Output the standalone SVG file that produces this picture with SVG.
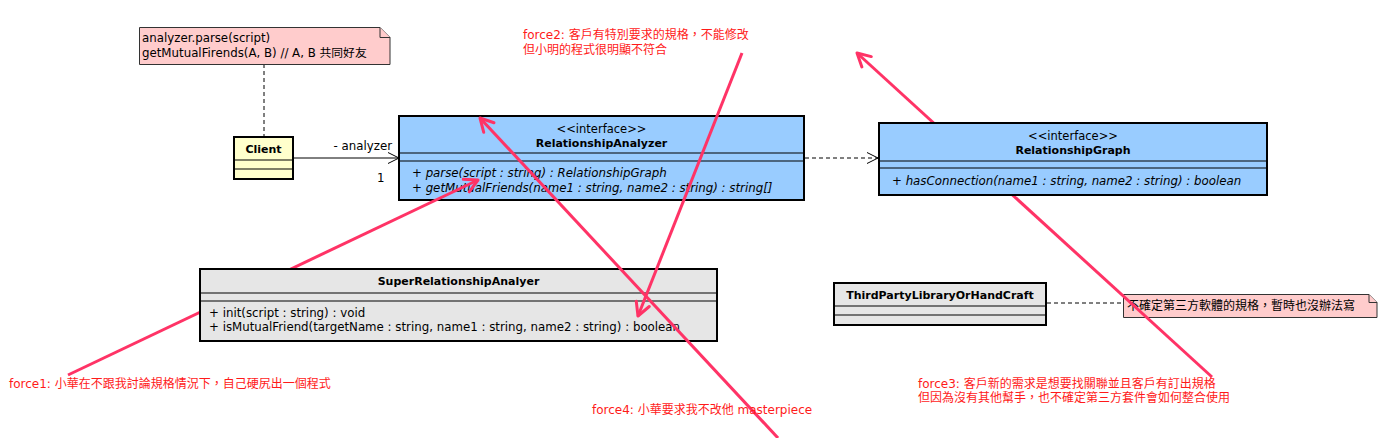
<svg xmlns="http://www.w3.org/2000/svg" width="1380" height="438" viewBox="0 0 1380 438">
<style>
.box{stroke:#000;stroke-width:2}
.sep{stroke:#000;stroke-width:1.2;fill:none}
.iface{fill:#99ccff}
.cls{fill:#e6e6e6}
.client{fill:#ffffcc}
.note{fill:#ffcccc;stroke:#333;stroke-width:1}
.t{font-family:"DejaVu Sans","Noto Sans CJK TC",sans-serif;font-size:11.8px;fill:#000}
.b{font-weight:bold;font-size:11px}
.i{font-style:italic}
.red{fill:#ff1a1a;font-size:12px}
.conn{stroke:#000;stroke-width:1;fill:none}
.dash{stroke-dasharray:4,3}
.force{stroke:#ff3366;stroke-width:3;fill:none}
</style>
<defs>
<marker id="open" markerUnits="userSpaceOnUse" markerWidth="14" markerHeight="14" refX="12" refY="7" orient="auto">
<path d="M1,1.5 L12,7 L1,12.5" fill="none" stroke="#000" stroke-width="1"/>
</marker>
<marker id="redArrow" markerUnits="userSpaceOnUse" markerWidth="20" markerHeight="20" refX="16" refY="10" orient="auto">
<path d="M3,3 L16,10 L3,17" fill="none" stroke="#ff3366" stroke-width="3" stroke-linecap="round" stroke-linejoin="round"/>
</marker>
</defs>
<rect width="1380" height="438" fill="#fff"/>

<g id="connectors">
<line class="conn" x1="293" y1="158" x2="399" y2="158" marker-end="url(#open)"/>
<text class="t" x="392" y="150" text-anchor="end">- analyzer</text>
<text class="t" x="377" y="182">1</text>
<line class="conn dash" x1="805" y1="158" x2="878" y2="158" marker-end="url(#open)"/>
<line class="conn dash" x1="264" y1="64" x2="264" y2="136"/>
<line class="conn dash" x1="1047" y1="303" x2="1123" y2="303"/>
</g>

<g id="RelationshipAnalyzer">
<rect class="box iface" x="399" y="116" width="405" height="84"/>
<line class="sep" x1="399" y1="153" x2="804" y2="153"/>
<line class="sep" x1="399" y1="161" x2="804" y2="161"/>
<text class="t" x="601.5" y="133" text-anchor="middle" style="font-size:11.5px">&lt;&lt;interface&gt;&gt;</text>
<text class="t b" x="601.5" y="147" text-anchor="middle">RelationshipAnalyzer</text>
<text class="t i" x="412" y="177">+ parse(script : string) : RelationshipGraph</text>
<text class="t i" x="412" y="192">+ getMutualFriends(name1 : string, name2 : string) : string[]</text>
</g>

<g id="note2">
<path class="note" d="M1123.5,294.5 H1369 L1377,302.5 V317.5 H1123.5 Z"/>
<path class="note" d="M1369,294.5 V302.5 H1377" fill="none"/>
<text class="t" x="1127" y="310" style="font-size:12px">不確定第三方軟體的規格，暫時也沒辦法寫</text>
</g>

<g id="force-arrows-back">
<line class="force" x1="68" y1="375" x2="478" y2="180" marker-end="url(#redArrow)"/>
<line class="force" x1="1212" y1="377" x2="857" y2="53" marker-end="url(#redArrow)"/>
</g>

<g id="SuperRelationshipAnalyer">
<rect class="box cls" x="200" y="269" width="517" height="72"/>
<line class="sep" x1="200" y1="293" x2="717" y2="293"/>
<line class="sep" x1="200" y1="301" x2="717" y2="301"/>
<text class="t b" x="458.5" y="285" text-anchor="middle">SuperRelationshipAnalyer</text>
<text class="t" x="209" y="317">+ init(script : string) : void</text>
<text class="t" x="209" y="331">+ isMutualFriend(targetName : string, name1 : string, name2 : string) : boolean</text>
</g>

<g id="RelationshipGraph">
<rect class="box iface" x="879" y="123" width="388" height="72"/>
<line class="sep" x1="879" y1="161" x2="1267" y2="161"/>
<line class="sep" x1="879" y1="168" x2="1267" y2="168"/>
<text class="t" x="1073" y="140" text-anchor="middle" style="font-size:11.5px">&lt;&lt;interface&gt;&gt;</text>
<text class="t b" x="1073" y="154" text-anchor="middle">RelationshipGraph</text>
<text class="t i" x="892" y="185">+ hasConnection(name1 : string, name2 : string) : boolean</text>
</g>

<g id="Client">
<rect class="box client" x="234" y="137" width="59" height="42"/>
<line class="sep" x1="234" y1="160" x2="293" y2="160"/>
<line class="sep" x1="234" y1="169" x2="293" y2="169"/>
<text class="t b" x="263.5" y="153" text-anchor="middle">Client</text>
</g>

<g id="ThirdPartyLibraryOrHandCraft">
<rect class="box cls" x="834" y="283" width="212" height="42"/>
<line class="sep" x1="834" y1="306" x2="1046" y2="306"/>
<line class="sep" x1="834" y1="315" x2="1046" y2="315"/>
<text class="t b" x="940" y="299" text-anchor="middle">ThirdPartyLibraryOrHandCraft</text>
</g>

<g id="note1">
<path class="note" d="M139.5,27.5 H380 L390,37.5 V64.5 H139.5 Z"/>
<path class="note" d="M380,27.5 V37.5 H390" fill="none"/>
<text class="t" x="142" y="42">analyzer.parse(script)</text>
<text class="t" x="142" y="57">getMutualFirends(A, B) // A, B 共同好友</text>
</g>

<g id="force-arrows-front">
<line class="force" x1="742" y1="53" x2="638" y2="316" marker-end="url(#redArrow)"/>
<line class="force" x1="778" y1="438" x2="480" y2="118" marker-end="url(#redArrow)"/>
</g>

<g id="force-labels">
<text class="t red" x="9" y="388">force1: 小華在不跟我討論規格情況下，自己硬尻出一個程式</text>
<text class="t red" x="523" y="39">force2: 客戶有特別要求的規格，不能修改</text>
<text class="t red" x="523" y="54">但小明的程式很明顯不符合</text>
<text class="t red" x="918" y="388">force3: 客戶新的需求是想要找關聯並且客戶有訂出規格</text>
<text class="t red" x="918" y="402">但因為沒有其他幫手，也不確定第三方套件會如何整合使用</text>
<text class="t red" x="592" y="414">force4: 小華要求我不改他 masterpiece</text>
</g>
</svg>
